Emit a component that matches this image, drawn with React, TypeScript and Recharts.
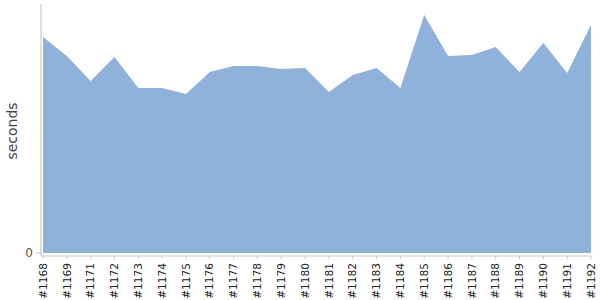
import React from 'react';
import { AreaChart, Area, XAxis, YAxis } from 'recharts';

const builds = [
  '#1168', '#1169', '#1171', '#1172', '#1173', '#1174', '#1175', '#1176',
  '#1177', '#1178', '#1179', '#1180', '#1181', '#1182', '#1183', '#1184',
  '#1185', '#1186', '#1187', '#1188', '#1189', '#1190', '#1191', '#1192',
];

const seconds = [
  216, 197, 172, 196, 165, 165, 159, 181,
  187, 187, 184, 185, 161, 178, 185, 165,
  238, 197, 198, 206, 181, 210, 180, 228,
];

const yTicks = [0];

const data = builds.map((b, i) => ({ build: b, seconds: seconds[i] }));

const FONT = '"DejaVu Sans", Verdana, sans-serif';

const BuildTick = (props: any) => {
  const { x, y, payload } = props;
  const ty = y + 2;
  return (
    <text
      x={x}
      y={ty}
      dy="0.35em"
      transform={`rotate(-90 ${x} ${ty})`}
      textAnchor="end"
      fontSize={10.6}
      fontFamily={FONT}
      fill="#222"
    >
      {payload.value}
    </text>
  );
};

const YLabel = (props: any) => {
  const vb = props.viewBox || { x: 0, y: 0, width: 0, height: 0 };
  const cx = vb.x + 12;
  const cy = vb.y + vb.height / 2 + 1;
  return (
    <text
      x={cx}
      y={cy}
      transform={`rotate(-90 ${cx} ${cy})`}
      textAnchor="middle"
      dominantBaseline="central"
      fontSize={14}
      fontFamily={FONT}
      fill="#444"
    >
      seconds
    </text>
  );
};

export default function App() {
  return (
    <div style={{ position: 'absolute', left: 0, top: 0, width: 600, height: 300, background: '#fff' }}>
      <AreaChart width={600} height={300} data={data} margin={{ top: 4, right: 9, bottom: 0, left: 0 }}>
        <XAxis
          dataKey="build"
          interval={0}
          tickSize={3}
          height={44}
          padding={{ left: 2, right: 0 }}
          stroke="#c8c8c8"
          tick={<BuildTick />}
        />
        <YAxis
          width={41}
          domain={[-3, 249]}
          ticks={yTicks}
          tickSize={5}
          tickMargin={3}
          stroke="#c0c0c0"
          tick={{ fontSize: 12, fontFamily: FONT, fill: '#555' }}
          label={<YLabel />}
        />
        <Area
          type="linear"
          dataKey="seconds"
          stroke="none"
          fill="#8fb1da"
          fillOpacity={1}
          isAnimationActive={false}
          dot={false}
          activeDot={false}
        />
      </AreaChart>
    </div>
  );
}
